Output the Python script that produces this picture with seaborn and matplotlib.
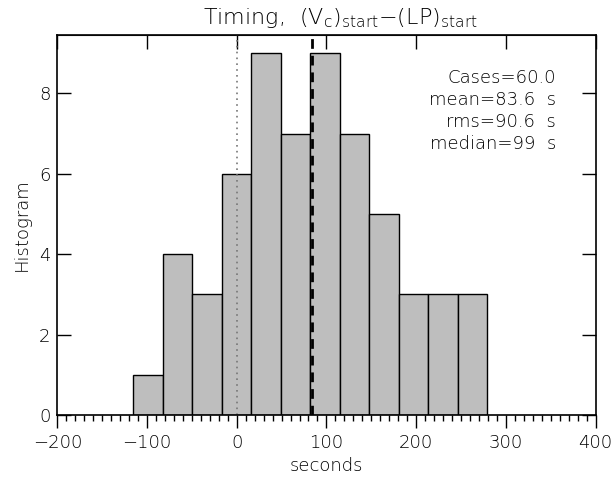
import numpy as np
import pandas as pd
import matplotlib.pyplot as plt
import seaborn as sns
from matplotlib.ticker import MultipleLocator

# histogram bins (seconds) and counts
bin_start = -115.3
bin_width = 32.9
counts = [1, 4, 3, 6, 9, 7, 9, 7, 5, 3, 3, 3]
stats_lines = ['Cases=60.0', 'mean=83.6  s', 'rms=90.6  s', 'median=99  s']
mean_val = 83.6

edges = bin_start + bin_width * np.arange(len(counts) + 1)
centers = (edges[:-1] + edges[1:]) / 2
df = pd.DataFrame({'seconds': centers, 'n': counts})

sns.set_style('ticks')
plt.rcParams['font.family'] = ['DejaVu Sans']
plt.rcParams['font.weight'] = 'light'
plt.rcParams['axes.labelweight'] = 'light'
plt.rcParams['text.color'] = 'black'
plt.rcParams['axes.labelcolor'] = 'black'
plt.rcParams['xtick.color'] = 'black'
plt.rcParams['ytick.color'] = 'black'
plt.rcParams['axes.unicode_minus'] = True
plt.rcParams['mathtext.fontset'] = 'dejavusans'

fig = plt.figure(figsize=(6.13, 4.86), dpi=100)
ax = fig.add_axes([0.0935, 0.146, 0.878, 0.782])

sns.histplot(data=df, x='seconds', weights='n', bins=len(counts),
             binrange=(edges[0], edges[-1]), ax=ax,
             color='#bebebe', edgecolor='black', linewidth=1, alpha=1)

ax.axvline(0, color='#777777', ls=(0, (1, 2.5)), lw=1.2)
ax.axvline(mean_val, color='black', ls=(0, (3.5, 2.5)), lw=2)

ax.set_xlim(-200, 400)
ax.set_ylim(0, max(counts) * 1.05)
ax.xaxis.set_major_locator(MultipleLocator(100))
ax.xaxis.set_minor_locator(MultipleLocator(10))
ax.yaxis.set_major_locator(MultipleLocator(2))

for s in ax.spines.values():
    s.set_linewidth(1.2)
    s.set_color('black')

ax.tick_params(axis='x', which='major', direction='out', length=9, width=1, labelsize=13, pad=5)
ax.tick_params(axis='x', which='minor', direction='out', length=4, width=1)
ax.tick_params(axis='y', which='major', direction='in', length=10, width=1, labelsize=13,
               right=True, pad=5)
# top axis: inward major ticks, no labels
sec = ax.secondary_xaxis('top')
sec.xaxis.set_major_locator(MultipleLocator(100))
sec.tick_params(direction='in', length=10, width=1, labeltop=False)

ax.set_xlabel('seconds', fontsize=13, labelpad=3)
ax.set_ylabel('Histogram', fontsize=13, labelpad=6)

fig.text(0.555, 0.962, r'Timing,  $\mathregular{(V_c)_{start}}$$-$$\mathregular{(LP)_{start}}$',
         ha='center', va='center', fontsize=16)

for i, line in enumerate(stats_lines):
    ax.text(0.927, 0.888 - i * 0.058, line, transform=ax.transAxes,
            ha='right', va='center', fontsize=13)

fig.savefig('out.png', dpi=100)
